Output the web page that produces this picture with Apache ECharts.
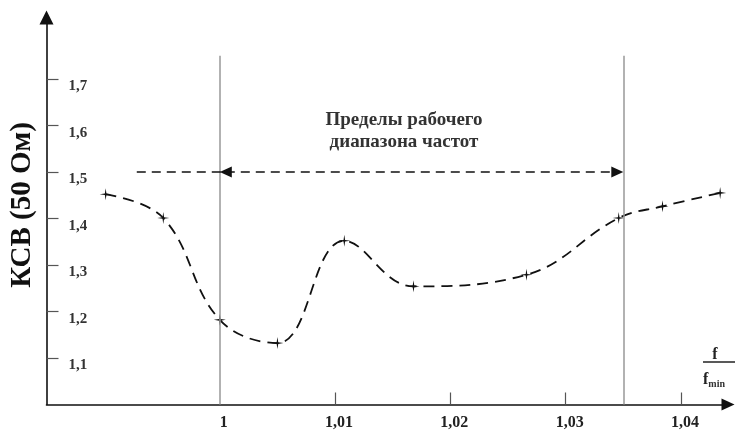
<!DOCTYPE html>
<html>
<head>
<meta charset="utf-8">
<script src="https://cdn.jsdelivr.net/npm/echarts@6/dist/echarts.min.js"></script>
<style>
html,body{margin:0;padding:0;background:#fff;}
#chart{width:735px;height:435px;}
</style>
</head>
<body>
<div id="chart"></div>
<script>
// ---- data ----
const freqRatio = [0.9901, 0.9951, 1.0, 1.005, 1.0108, 1.0168, 1.0266, 1.0346, 1.0384, 1.0434];
const vswr      = [1.452, 1.401, 1.182, 1.132, 1.352, 1.254, 1.279, 1.401, 1.426, 1.455];
const xTickValues  = [1.01, 1.02, 1.03, 1.04];
const xLabelValues = [1, 1.01, 1.02, 1.03, 1.04];
const yTickValues  = [1.1, 1.2, 1.3, 1.4, 1.5, 1.6, 1.7];
const bandLimits = [1, 1.035];       // working frequency range
const vswrLimit = 1.5;               // level of the range arrow
const arrowStart = 0.9928;           // left start of the dashed arrow line
const limitLineTop = 1.75;
const yAxisTitle = 'КСВ (50 Ом)';
const bandTitle = 'Пределы рабочего\nдиапазона частот';

const X_MIN = 0.98497, X_MAX = 1.04408, Y_MIN = 1.0, Y_MAX = 1.8321;
const serif = '"Liberation Serif", "DejaVu Serif", serif';
const pxX = 0.01 / 115.3; // value per pixel on x (for arrow head offsets)

const chart = echarts.init(document.getElementById('chart'), null, {renderer: 'canvas'});
const star = 'path://M0,-10 L1.3,-1.3 L10,0 L1.3,1.3 L0,10 L-1.3,1.3 L-10,0 L-1.3,-1.3 Z';

const option = {
  animation: false,
  backgroundColor: '#fff',
  grid: {left: 46.5, right: 7, top: 17.5, bottom: 30.5, containLabel: false},
  xAxis: {
    type: 'value', min: X_MIN, max: X_MAX,
    axisLine: {show: true, symbol: ['none', 'triangle'], symbolSize: [12, 13],
      lineStyle: {color: '#111', width: 1.6}},
    axisTick: {show: true, inside: true, length: 12, customValues: xTickValues,
      lineStyle: {color: '#555', width: 1.2}},
    axisLabel: {show: true, customValues: xLabelValues, margin: 10,
      fontFamily: serif, fontWeight: 'bold', fontSize: 16, color: '#222', padding: [0, 0, 0, 8],
      formatter: v => String(Math.round(v * 100) / 100).replace('.', ',')},
    splitLine: {show: false}
  },
  yAxis: {
    type: 'value', min: Y_MIN, max: Y_MAX,
    axisLine: {show: true, symbol: ['none', 'triangle'], symbolSize: [14, 14],
      lineStyle: {color: '#111', width: 1.6}},
    axisTick: {show: true, inside: true, length: 12, customValues: yTickValues,
      lineStyle: {color: '#555', width: 1.2}},
    axisLabel: {show: true, inside: true, customValues: yTickValues, margin: 22,
      fontFamily: serif, fontWeight: 'bold', fontSize: 15, color: '#333', verticalAlign: 'top',
      formatter: v => v.toFixed(1).replace('.', ',')},
    splitLine: {show: false}
  },
  graphic: [
    {type: 'text', x: 23, y: 205, rotation: Math.PI / 2,
      style: {text: yAxisTitle, font: 'bold 29px ' + serif, fill: '#111', align: 'center', verticalAlign: 'middle'}},
    {type: 'text', x: 404, y: 109,
      style: {text: bandTitle, font: 'bold 19px ' + serif, fill: '#333', align: 'center', verticalAlign: 'top', lineHeight: 22}},
    {type: 'text', x: 715, y: 355,
      style: {text: 'f', font: 'bold 16px ' + serif, fill: '#222', align: 'center', verticalAlign: 'middle'}},
    {type: 'line', shape: {x1: 703, y1: 362, x2: 735, y2: 362}, style: {stroke: '#222', lineWidth: 1.5}},
    {type: 'text', x: 703, y: 380,
      style: {text: '{a|f}{b|min}', fill: '#222', align: 'left', verticalAlign: 'middle',
        rich: {a: {font: 'bold 16px ' + serif, fill: '#222'}, b: {font: 'bold 10px ' + serif, fill: '#333', padding: [8, 0, 0, 0]}}}}
  ],
  series: [{
    type: 'line',
    data: freqRatio.map((x, i) => [x, vswr[i]]),
    smooth: 0.4,
    symbol: star,
    symbolSize: 12,
    itemStyle: {color: '#111'},
    lineStyle: {color: '#111', width: 1.8, type: [11, 7]},
    z: 3,
    markLine: {
      silent: true,
      animation: false,
      label: {show: false},
      data: [
        [{coord: [bandLimits[0], Y_MIN], symbol: 'none', lineStyle: {color: '#999', width: 1.5, type: 'solid'}},
         {coord: [bandLimits[0], limitLineTop], symbol: 'none'}],
        [{coord: [bandLimits[1], Y_MIN], symbol: 'none', lineStyle: {color: '#999', width: 1.5, type: 'solid'}},
         {coord: [bandLimits[1], limitLineTop], symbol: 'none'}],
        [{coord: [arrowStart, vswrLimit], symbol: 'none', lineStyle: {color: '#111', width: 1.6, type: [9, 6]}},
         {coord: [bandLimits[0] + 6 * pxX, vswrLimit], symbol: 'none'}],
        [{coord: [bandLimits[0] + 6 * pxX, vswrLimit], symbol: 'triangle', symbolSize: [11, 12],
          lineStyle: {color: '#111', width: 1.6, type: [9, 6]}, itemStyle: {color: '#111'}},
         {coord: [bandLimits[1] - 6 * pxX, vswrLimit], symbol: 'triangle', symbolSize: [11, 12]}]
      ]
    }
  }]
};
chart.setOption(option);
</script>
</body>
</html>
